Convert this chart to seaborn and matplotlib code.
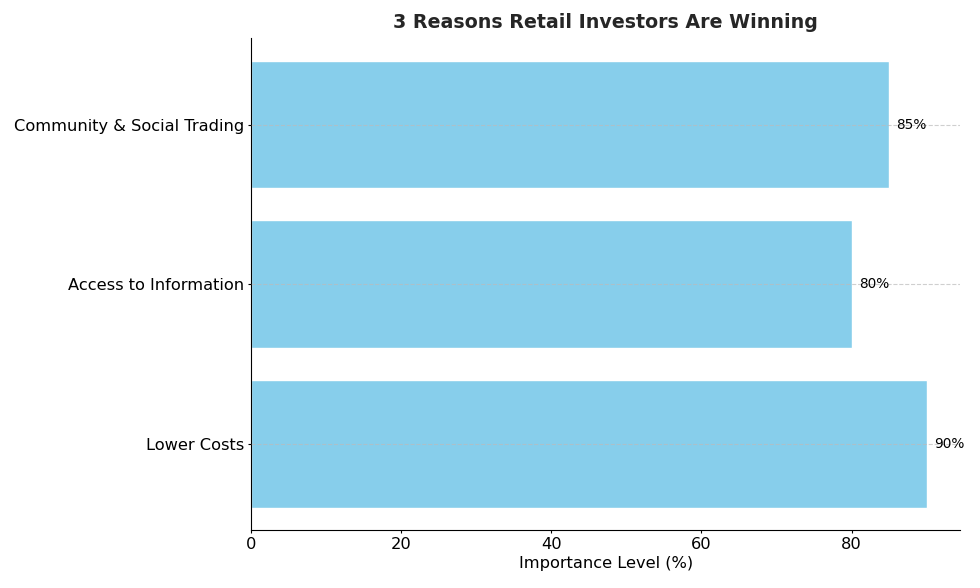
import matplotlib
matplotlib.use("Agg")
import matplotlib.pyplot as plt
import pandas as pd
import seaborn as sns

reasons = ["Lower Costs", "Access to Information", "Community & Social Trading"]
importance = [90, 80, 85]

sns.set_style("ticks")
plt.rcParams["font.family"] = ["DejaVu Sans"]
plt.rcParams["text.color"] = "black"
plt.rcParams["xtick.color"] = "black"
plt.rcParams["ytick.color"] = "black"
plt.rcParams["axes.labelcolor"] = "black"
plt.rcParams["axes.edgecolor"] = "black"

df = pd.DataFrame({"reason": reasons, "importance": importance})
# matplotlib barh order: first category at bottom
order = reasons[::-1]

fig, ax = plt.subplots(figsize=(9.8, 5.88), dpi=100)
sns.barplot(data=df, x="importance", y="reason", order=order, orient="h",
            color="skyblue", saturation=1, width=0.8, ax=ax)
ax.set_axisbelow(False)
ax.grid(axis="y", linestyle="--", color="#bbbbbb", linewidth=0.8, alpha=0.7)
ax.set_xlim(0, 94.5)
ax.set_ylim(2.54, -0.54)
for i, r in enumerate(order):
    v = df.loc[df["reason"] == r, "importance"].iloc[0]
    ax.text(v + 1, i, f"{v}%", va="center", ha="left", fontsize=9.8)
ax.set_xlabel("Importance Level (%)", fontsize=11.7, labelpad=3)
ax.set_ylabel("")
ax.tick_params(axis="both", labelsize=11.7, length=2.5, pad=2.2)
ax.set_title("3 Reasons Retail Investors Are Winning", fontsize=13.7,
             fontweight="bold", color="#262626", pad=7)
sns.despine(ax=ax)
fig.subplots_adjust(left=0.256, right=0.98, top=0.935, bottom=0.098)
fig.savefig("out.png", dpi=100)
